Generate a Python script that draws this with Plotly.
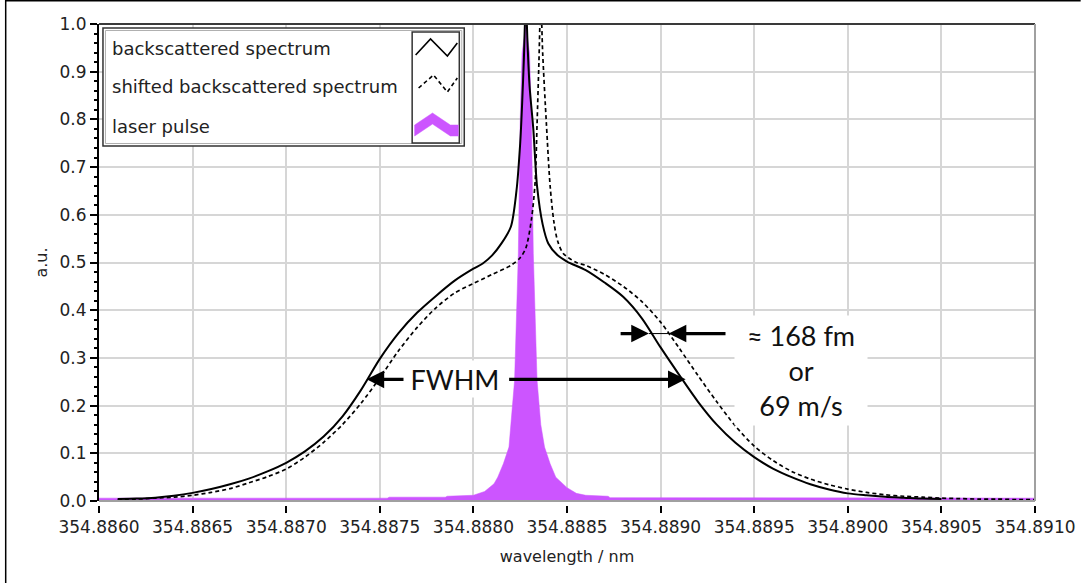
import plotly.graph_objects as go

# ---------------------------------------------------------------- data
# backscattered spectrum (solid)
bs_wavelength = [
    354.8861, 354.8862, 354.8863, 354.8864, 354.8865, 354.8866, 354.8867,
    354.8868, 354.8869, 354.8870, 354.8871, 354.8872, 354.8873, 354.8874,
    354.8875, 354.8876, 354.8877, 354.8878, 354.8879, 354.8880, 354.88805,
    354.8881, 354.88815, 354.8882, 354.88823, 354.88825, 354.88826,
    354.88827, 354.88828, 354.88829, 354.88830, 354.88832, 354.88834,
    354.88837, 354.8884, 354.88845, 354.8885, 354.8886, 354.8887, 354.8888,
    354.8889, 354.8890, 354.8891, 354.8892, 354.8893, 354.8894, 354.8895,
    354.8896, 354.8897, 354.8898, 354.8899, 354.8900, 354.8901, 354.8902,
    354.8903, 354.8904, 354.8905,
]
bs_intensity = [
    0.004, 0.005, 0.007, 0.011, 0.017, 0.025, 0.035,
    0.047, 0.062, 0.080, 0.104, 0.135, 0.177, 0.233,
    0.298, 0.352, 0.395, 0.430, 0.462, 0.487, 0.498,
    0.515, 0.540, 0.575, 0.650, 0.750, 0.830,
    0.930, 1.050, 0.950, 0.870, 0.780, 0.660,
    0.580, 0.540, 0.515, 0.502, 0.484, 0.458, 0.428,
    0.383, 0.322, 0.264, 0.208, 0.160, 0.122, 0.092,
    0.068, 0.050, 0.035, 0.024, 0.016, 0.012, 0.009,
    0.007, 0.005, 0.004,
]

# shifted backscattered spectrum (dashed)
shift_wavelength = [
    354.8861, 354.8862, 354.8863, 354.8864, 354.8865, 354.8866, 354.8867,
    354.8868, 354.8869, 354.8870, 354.8871, 354.8872, 354.8873, 354.8874,
    354.8875, 354.8876, 354.8877, 354.8878, 354.8879, 354.8880, 354.8881,
    354.8882, 354.88825, 354.88828, 354.88831, 354.88833, 354.88834,
    354.88835, 354.88836, 354.88837, 354.88839, 354.88841, 354.88843,
    354.88845, 354.88848, 354.88855, 354.8886, 354.8887, 354.8888, 354.8889,
    354.8890, 354.8891, 354.8892, 354.8893, 354.8894, 354.8895, 354.8896,
    354.8897, 354.8898, 354.8899, 354.8900, 354.8901, 354.8902, 354.8903,
    354.8904, 354.8905, 354.8906, 354.8907, 354.8908, 354.8909, 354.8910,
]
shift_intensity = [
    0.003, 0.004, 0.006, 0.008, 0.012, 0.018, 0.026,
    0.038, 0.051, 0.067, 0.092, 0.123, 0.160, 0.205,
    0.258, 0.315, 0.364, 0.405, 0.436, 0.456, 0.475,
    0.494, 0.510, 0.530, 0.590, 0.670, 0.790,
    0.920, 1.050, 0.940, 0.790, 0.660, 0.585,
    0.545, 0.519, 0.500, 0.494, 0.475, 0.450, 0.418,
    0.375, 0.320, 0.263, 0.208, 0.157, 0.115, 0.085,
    0.062, 0.046, 0.034, 0.025, 0.018, 0.013, 0.010,
    0.008, 0.006, 0.005, 0.004, 0.004, 0.003, 0.003,
]

# laser pulse (filled)
laser_wavelength = [
    354.8860, 354.88754, 354.88755, 354.88785, 354.88786, 354.8880,
    354.88806, 354.88811, 354.88813, 354.88816, 354.88819, 354.88820,
    354.88822, 354.88824, 354.88825, 354.88826, 354.88828, 354.88830,
    354.88831, 354.88832, 354.88834, 354.88836, 354.88838, 354.88841,
    354.88844, 354.88850, 354.88855, 354.88860, 354.88872, 354.88873,
    354.8910,
]
laser_intensity = [
    0.006, 0.006, 0.008, 0.008, 0.010, 0.012,
    0.020, 0.036, 0.050, 0.078, 0.113, 0.160,
    0.253, 0.519, 0.798, 0.938, 1.000, 0.938,
    0.798, 0.519, 0.253, 0.160, 0.113, 0.078,
    0.050, 0.028, 0.016, 0.012, 0.010, 0.007,
    0.006,
]

x_tick_values = [354.8860, 354.8865, 354.8870, 354.8875, 354.8880, 354.8885,
                 354.8890, 354.8895, 354.8900, 354.8905, 354.8910]
x_tick_labels = ["354.8860", "354.8865", "354.8870", "354.8875", "354.8880",
                 "354.8885", "354.8890", "354.8895", "354.8900", "354.8905",
                 "354.8910"]
y_tick_values = [0.0, 0.1, 0.2, 0.3, 0.4, 0.5, 0.6, 0.7, 0.8, 0.9, 1.0]
y_tick_labels = ["0.0", "0.1", "0.2", "0.3", "0.4", "0.5", "0.6", "0.7",
                 "0.8", "0.9", "1.0"]
y_minor_ticks = [round(0.02 * i, 2) for i in range(51) if i % 5]

legend_labels = ["backscattered spectrum", "shifted backscattered spectrum",
                 "laser pulse"]

# ---------------------------------------------------------------- layout
W, H = 1088, 583
L, R, T, B = 99, 1042, 24, 505          # plot box in pixels (B = tick line)
Y0_PX = 501                              # pixel row of a.u. = 0


def px(x):
    return (x - L) / (R - L)


def py(y):
    return (B - y) / (B - T)


TICK_FONT = dict(family="DejaVu Sans", size=17, color="#222222")
GRID = "#d6d6d6"
MAGENTA = "#cc55ff"
Y_DOMAIN = [py(Y0_PX), 1]

fig = go.Figure()

fig.add_trace(go.Scatter(
    x=laser_wavelength, y=laser_intensity, mode="lines",
    line=dict(color=MAGENTA, width=0.5), fill="tozeroy", fillcolor=MAGENTA,
    name=legend_labels[2], showlegend=False, hoverinfo="skip"))
fig.add_trace(go.Scatter(
    x=shift_wavelength, y=shift_intensity, mode="lines",
    line=dict(color="black", width=1.7, dash="4px,3px", shape="spline",
              smoothing=0.8),
    name=legend_labels[1], showlegend=False))
# the top-most curve sits on the overlaid axis that carries the minor ticks
fig.add_trace(go.Scatter(
    x=bs_wavelength, y=bs_intensity, mode="lines", yaxis="y2",
    line=dict(color="black", width=2, shape="spline", smoothing=0.8),
    name=legend_labels[0], showlegend=False))

fig.update_layout(
    xaxis=dict(
        range=[354.8860, 354.8910], tickvals=x_tick_values,
        ticktext=x_tick_labels, ticks="outside", ticklen=7, tickwidth=2,
        tickcolor="black", tickfont=TICK_FONT, showgrid=True, gridcolor=GRID,
        gridwidth=2, showline=False, zeroline=False, anchor="free",
        position=0,
        title=dict(text="wavelength / nm", standoff=14,
                   font=dict(family="DejaVu Sans", size=16,
                             color="#222222"))),
    yaxis=dict(
        range=[0, 1.0], domain=Y_DOMAIN, tickvals=y_tick_values,
        ticktext=y_tick_labels, ticks="outside", ticklen=7, tickwidth=2,
        tickcolor="black", tickfont=TICK_FONT, showgrid=True, gridcolor=GRID,
        gridwidth=2, showline=True, linecolor="black", linewidth=2,
        zeroline=False,
        title=dict(text="a.u.", standoff=8,
                   font=dict(family="DejaVu Sans", size=16,
                             color="#222222"))),
    yaxis2=dict(
        range=[0, 1.0], domain=Y_DOMAIN, overlaying="y", side="left",
        anchor="x", tickvals=y_minor_ticks, ticks="outside", ticklen=4.5,
        tickwidth=2, tickcolor="black", showticklabels=False,
        showgrid=False, showline=False, zeroline=False),
)

shapes = []
# plot frame
shapes.append(dict(type="line", xref="paper", yref="paper", x0=0, x1=1,
                   y0=1, y1=1, line=dict(color="#3a3a3a", width=2)))
shapes.append(dict(type="line", xref="paper", yref="paper", x0=1, x1=1,
                   y0=py(Y0_PX), y1=1, line=dict(color="#a0a0a0", width=2)))
shapes.append(dict(type="line", xref="paper", yref="paper", x0=0, x1=1,
                   y0=py(Y0_PX), y1=py(Y0_PX),
                   line=dict(color="#a0a0a0", width=2)))
# outer panel edge
shapes.append(dict(type="line", xref="paper", yref="paper",
                   x0=px(5), x1=px(5), y0=py(0), y1=py(H),
                   line=dict(color="black", width=1.5)))
shapes.append(dict(type="line", xref="paper", yref="paper",
                   x0=px(5), x1=px(W), y0=py(0.8), y1=py(0.8),
                   line=dict(color="black", width=1.5)))

# legend box
shapes.append(dict(type="rect", xref="paper", yref="paper",
                   x0=px(103), x1=px(467), y0=py(146), y1=py(28),
                   fillcolor="white", line=dict(color="#333333", width=1.5)))
shapes.append(dict(type="rect", xref="paper", yref="paper",
                   x0=px(105.5), x1=px(464.5), y0=py(143.5), y1=py(30.5),
                   line=dict(color="#b0b0b0", width=1)))
shapes.append(dict(type="rect", xref="paper", yref="paper",
                   x0=px(414.5), x1=px(462), y0=py(143), y1=py(32),
                   line=dict(color="#333333", width=1.5)))


def path(points, close=False):
    s = "M " + " L ".join(f"{px(a):.5f},{py(b):.5f}" for a, b in points)
    return s + (" Z" if close else "")


shapes.append(dict(type="path", xref="paper", yref="paper",
                   path=path([(418, 55), (433, 39), (450, 56), (460, 43)]),
                   line=dict(color="black", width=1.6)))
shapes.append(dict(type="path", xref="paper", yref="paper",
                   path=path([(421, 88), (436, 75), (450, 92), (460, 78)]),
                   line=dict(color="black", width=1.6, dash="4px,3px")))
shapes.append(dict(type="path", xref="paper", yref="paper",
                   path=path([(417, 125), (435, 113), (453, 125), (461, 125),
                              (461, 136), (453, 136), (435, 124), (417, 136)],
                             close=True),
                   fillcolor=MAGENTA, line=dict(color=MAGENTA, width=0.5)))

# thin bar between the two shift arrows
shift_y = 0.351
shift_left_tip, shift_right_tip = 354.8889374, 354.8890435
shapes.append(dict(type="line", xref="x", yref="y", x0=shift_left_tip,
                   x1=shift_right_tip, y0=shift_y, y1=shift_y,
                   line=dict(color="black", width=1)))

annotations = []
for label, ypix in zip(legend_labels, [48, 87, 127]):
    annotations.append(dict(
        text=label, xref="paper", yref="paper", x=px(110), y=py(ypix),
        xanchor="left", yanchor="middle", showarrow=False,
        font=dict(family="DejaVu Sans", size=18, color="#222222")))


def arrow(tip_x, tail_x, y):
    return dict(x=tip_x, y=y, ax=tail_x, ay=y, xref="x", yref="y",
                axref="x", ayref="y", text="", showarrow=True,
                arrowhead=2, arrowsize=1.1, arrowwidth=3.2,
                arrowcolor="black")


fwhm_y = 0.255
annotations.append(arrow(354.8874295, 354.8876384, fwhm_y))
annotations.append(arrow(354.8891336, 354.8881829, fwhm_y))
annotations.append(arrow(shift_left_tip, 354.8887784, shift_y))
annotations.append(arrow(shift_right_tip, 354.8893547, shift_y))

annotations.append(dict(
    text="FWHM", x=354.8879035, y=fwhm_y, xref="x", yref="y",
    showarrow=False, bgcolor="white", width=100, height=34,
    font=dict(family="Lato", size=27, color="#111111")))
annotations.append(dict(
    text="\u2248 168 fm<br>or<br>69 m/s", x=354.8897487, y=0.2746,
    xref="x", yref="y", showarrow=False, bgcolor="white", width=130,
    height=107, align="center",
    font=dict(family="Lato", size=27, color="#111111")))

fig.update_layout(
    width=W, height=H, margin=dict(l=L, r=W - R, t=T, b=H - B),
    paper_bgcolor="white", plot_bgcolor="white", showlegend=False,
    shapes=shapes, annotations=annotations)

fig.write_html("out.html")
